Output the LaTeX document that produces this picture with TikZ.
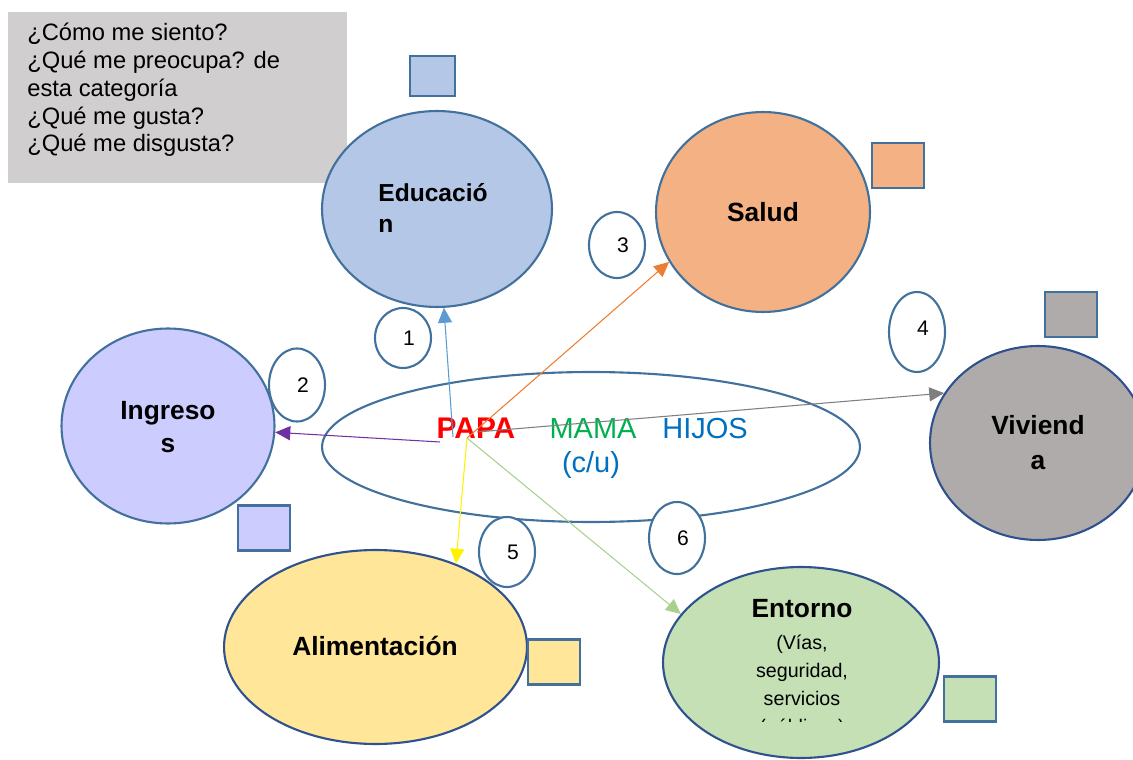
\documentclass[tikz,border=0pt]{standalone}
\usepackage{fontspec}
\setmainfont{Liberation Sans}
\usetikzlibrary{shapes.geometric,arrows.meta}
\definecolor{borde}{HTML}{41719C}
\definecolor{bordeosc}{HTML}{2F528F}
\definecolor{gris}{HTML}{D0CECE}
\definecolor{cedu}{HTML}{B4C7E7}
\definecolor{csal}{HTML}{F4B183}
\definecolor{cing}{HTML}{CCCCFF}
\definecolor{cviv}{HTML}{AFABAB}
\definecolor{cali}{HTML}{FFE699}
\definecolor{cent}{HTML}{C5E0B4}
\definecolor{papa}{HTML}{FF0000}
\definecolor{mama}{HTML}{00B050}
\definecolor{hijos}{HTML}{0070C0}
\tikzset{
	cat/.style={ellipse,draw=borde,line width=1.2pt,inner sep=0pt},
	num/.style={ellipse,draw=borde,line width=1.2pt,fill=white,minimum width=1.12cm,inner sep=0pt},
	numtxt/.style={xshift=0.12cm,font=\fontsize{12}{14}\selectfont},
	caja/.style={draw=borde,line width=1.2pt,minimum width=1.04cm,minimum height=0.9cm,inner sep=0pt},
	rotulo/.style={font=\fontsize{15}{19}\selectfont\bfseries,align=center,inner sep=0pt},
	flecha/.style={line width=0.6pt,-{Triangle[length=8.5pt,width=8pt]}}
}
\begin{document}
\begin{tikzpicture}[x=0.02cm,y=-0.02cm]
		\useasboundingbox (0,0) rectangle (1133,760);
		\fill[gris] (8,12) rectangle (347,183);
		\node[anchor=north west,inner sep=0pt,align=left,font=\fontsize{13.5}{15.8}\selectfont] (preg) at (27,23)
			{¿Cómo me siento?\\¿Qué me preocupa? de\\esta categoría\\¿Qué me gusta?\\¿Qué me disgusta?};
		\node[cat,fill=cedu,minimum width=4.6cm,minimum height=3.92cm] (edu) at (437,209) {};
		\node[rotulo,anchor=west,align=left,font=\fontsize{14}{18}\selectfont\bfseries] (tedu) at (378,208) {Educació\\n};
		\node[caja,fill=cedu,minimum width=0.9cm,minimum height=0.8cm] (qedu) at (432.5,76) {};
		\node[cat,fill=csal,minimum width=4.28cm,minimum height=4cm] (sal) at (763,212) {};
		\node[rotulo] (tsal) at (763,212) {Salud};
		\node[caja,fill=csal] (qsal) at (898,165.5) {};
		\node[cat,fill=cing,minimum width=4.26cm,minimum height=3.9cm] (ing) at (168,426) {};
		\node[rotulo] (ting) at (168,427) {Ingreso\\s};
		\node[caja,fill=cing] (qing) at (264,528) {};
		\node[cat,fill=white,minimum width=10.76cm,minimum height=3cm] (fam) at (591,447) {};
		\node[cat,draw=bordeosc,fill=cviv,minimum width=4.32cm,minimum height=3.88cm] (viv) at (1038,443) {};
		\node[rotulo,font=\fontsize{15}{20}\selectfont\bfseries] (tviv) at (1038,443) {Viviend\\a};
		\node[caja,fill=cviv] (qviv) at (1071,314.5) {};
		\node[cat,draw=bordeosc,fill=cali,minimum width=6.06cm,minimum height=3.88cm] (ali) at (375.5,647) {};
		\node[rotulo] (tali) at (375,646) {Alimentación};
		\node[caja,fill=cali] (qali) at (554,662) {};
		\node[cat,draw=bordeosc,fill=cent,minimum width=5.52cm,minimum height=3.82cm] (ent) at (801,662.5) {};
		\begin{scope}
			\clip (650,560) rectangle (950,721);
			\node[anchor=north,inner sep=0pt,align=center,font=\fontsize{11.2}{16}\selectfont] (tent) at (802,599)
				{{\fontsize{15}{18}\selectfont\bfseries Entorno}\\[2pt](Vías,\\seguridad,\\servicios\\(públicos)};
		\end{scope}
		\node[caja,fill=cent] (qent) at (970,699) {};
		\node[num,minimum height=1.2cm,label={[numtxt]center:1}] (n1) at (403,338) {};
		\node[num,minimum height=1.46cm,label={[numtxt]center:2}] (n2) at (297,385) {};
		\node[num,minimum height=1.32cm,label={[numtxt]center:3}] (n3) at (617,245) {};
		\node[num,minimum height=1.6cm,label={[numtxt,yshift=0.08cm]center:4}] (n4) at (917,332) {};
		\node[num,minimum height=1.4cm,label={[numtxt]center:5}] (n5) at (507,552) {};
		\node[num,minimum height=1.44cm,label={[numtxt]center:6}] (n6) at (677,538) {};
		\node[anchor=base,inner sep=0pt,text=papa,font=\fontsize{17}{19}\selectfont\bfseries] (tpapa) at (476,438) {PAPA};
		\node[anchor=base,inner sep=0pt,text=mama,font=\fontsize{16.5}{19}\selectfont] (tmama) at (593,438) {MAMA};
		\node[anchor=base,inner sep=0pt,text=hijos,font=\fontsize{16.5}{19}\selectfont] (thijos) at (705,438) {HIJOS};
		\node[inner sep=0pt,text=hijos,font=\fontsize{16.5}{19}\selectfont] (tcu) at (591,465) {(c/u)};
		\coordinate (o) at (467,438);
		\coordinate (ob) at (453,437);
		\coordinate (op) at (440,442);
		\coordinate (og) at (477,432);
		\draw[flecha,color={rgb,255:red,91;green,155;blue,213}] (ob) -- (edu);
		\draw[flecha,color={rgb,255:red,112;green,48;blue,160}] (op) -- (ing);
		\draw[flecha,color={rgb,255:red,237;green,125;blue,49}] (o) -- (sal.208);
		\draw[flecha,color={rgb,255:red,127;green,127;blue,127}] (og) -- (viv.152);
		\draw[flecha,color=yellow] (o) -- (ali.46);
		\draw[flecha,color={rgb,255:red,169;green,209;blue,142}] (o) -- (ent.158);
	\end{tikzpicture}
\end{document}
